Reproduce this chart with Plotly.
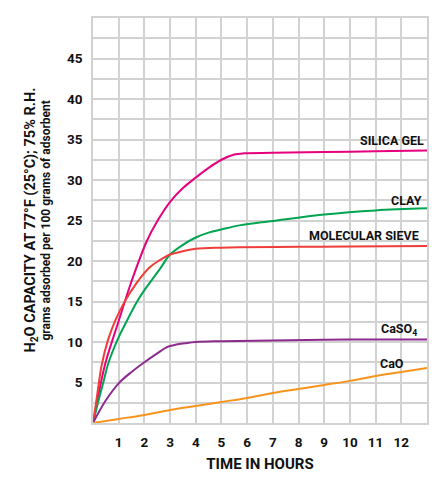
import plotly.graph_objects as go

# readings: hours vs grams H2O per 100 g adsorbent
silica_t = [0, 0.16, 0.31, 0.5, 1.0, 1.5, 2.1, 2.5, 3.0, 3.5, 4.0, 4.5, 5.0, 5.5, 5.9, 7, 9, 11, 13]
silica_v = [0, 2.5, 5.0, 7.6, 12.6, 17.5, 22.5, 24.9, 27.3, 29.0, 30.3, 31.5, 32.5, 33.15, 33.3, 33.35, 33.45, 33.55, 33.65]

clay_t = [0, 0.2, 0.4, 0.6, 1.0, 1.3, 1.7, 2.0, 2.3, 2.6, 3.0, 3.5, 4.0, 4.5, 5.0, 5.7, 7, 9, 11, 13]
clay_v = [0, 2.6, 5.0, 7.4, 10.6, 12.5, 14.9, 16.4, 17.7, 19.0, 20.8, 22.0, 22.9, 23.5, 23.9, 24.4, 24.95, 25.75, 26.25, 26.5]

sieve_t = [0, 0.12, 0.23, 0.34, 0.58, 0.86, 1.2, 1.7, 2.2, 2.6, 3.0, 3.5, 4.0, 5.0, 5.7, 8, 10, 13]
sieve_v = [0, 2.5, 5.0, 7.2, 10.2, 12.6, 14.8, 17.3, 19.2, 20.1, 20.8, 21.2, 21.5, 21.65, 21.7, 21.75, 21.8, 21.85]

caso4_t = [0, 0.5, 1, 1.5, 2, 2.5, 2.9, 3.2, 3.6, 4, 5, 7, 10, 13]
caso4_v = [0, 2.8, 4.9, 6.3, 7.5, 8.6, 9.4, 9.65, 9.85, 10.0, 10.1, 10.2, 10.3, 10.3]

cao_t = [0, 1, 2, 3, 4, 5, 6, 7, 8, 9, 10, 11, 12, 13]
cao_v = [0, 0.5, 1.0, 1.6, 2.1, 2.6, 3.1, 3.7, 4.2, 4.7, 5.2, 5.8, 6.3, 6.8]

hour_ticks = [1, 2, 3, 4, 5, 6, 7, 8, 9, 10, 11, 12]
capacity_ticks = [5, 10, 15, 20, 25, 30, 35, 40, 45]

FONT = "Roboto, Liberation Sans, Arial, sans-serif"
INK = "#111111"
GRID = "#d2d2d2"

series = [
    ("SILICA GEL", silica_t, silica_v, "#e6007e", 12.97, 34.9, "right"),
    ("CLAY", clay_t, clay_v, "#00a551", 12.9, 27.5, "right"),
    ("MOLECULAR SIEVE", sieve_t, sieve_v, "#ee3d3a", 12.78, 23.2, "right"),
    ("CaSO<sub>4</sub>", caso4_t, caso4_v, "#8c2a8e", 12.7, 11.5, "right"),
    ("CaO", cao_t, cao_v, "#f7941d", 11.65, 7.4, "center"),
]

fig = go.Figure()
for name, t, v, color, lx, ly, anchor in series:
    fig.add_trace(
        go.Scatter(
            x=t,
            y=v,
            mode="lines",
            line=dict(color=color, width=2, shape="spline", smoothing=1.0),
            showlegend=False,
            hoverinfo="skip",
        )
    )
    fig.add_annotation(
        x=lx,
        y=ly,
        text=name,
        showarrow=False,
        xanchor=anchor,
        yanchor="middle",
        font=dict(family=FONT, size=12.5, color=INK, weight="bold"),
    )

# y axis title, two lines of different size
fig.add_annotation(
    xref="paper", yref="paper", x=0, y=0.5, xshift=-63,
    text="H<sub>2</sub>O CAPACITY AT 77°F (25°C); 75% R.H.",
    textangle=-90, showarrow=False, xanchor="center", yanchor="middle",
    font=dict(family=FONT, size=14.5, color=INK, weight="bold"),
)
fig.add_annotation(
    xref="paper", yref="paper", x=0, y=0.5, xshift=-48,
    text="grams adsorbed per 100 grams of adsorbent",
    textangle=-90, showarrow=False, xanchor="center", yanchor="middle",
    font=dict(family=FONT, size=12, color=INK, weight="bold"),
)

fig.update_xaxes(
    range=[0, 13],
    tickvals=hour_ticks,
    showgrid=True,
    gridcolor=GRID,
    gridwidth=1.5,
    showline=True,
    linecolor=GRID,
    linewidth=1.5,
    mirror=True,
    zeroline=False,
    ticks="",
    ticklabelstandoff=6,
    tickfont=dict(family=FONT, size=13.5, color=INK, weight="bold"),
    title=dict(
        text="TIME IN HOURS",
        font=dict(family=FONT, size=15, color=INK, weight="bold"),
        standoff=10,
    ),
)
fig.update_yaxes(
    range=[0, 50],
    tickvals=capacity_ticks,
    showgrid=True,
    gridcolor=GRID,
    gridwidth=1.5,
    minor=dict(tick0=0, dtick=2.5, showgrid=True, gridcolor=GRID, gridwidth=1.5),
    showline=True,
    linecolor=GRID,
    linewidth=1.5,
    mirror=True,
    zeroline=False,
    ticks="",
    ticklabelstandoff=6,
    tickfont=dict(family=FONT, size=13.5, color=INK, weight="bold"),
)

# page body adds 8px around the figure, so size it to fit the window
fig.update_layout(
    width=439,
    height=472,
    margin=dict(l=85, r=20, t=8, b=57),
    paper_bgcolor="white",
    plot_bgcolor="white",
)

fig.write_html("out.html")
